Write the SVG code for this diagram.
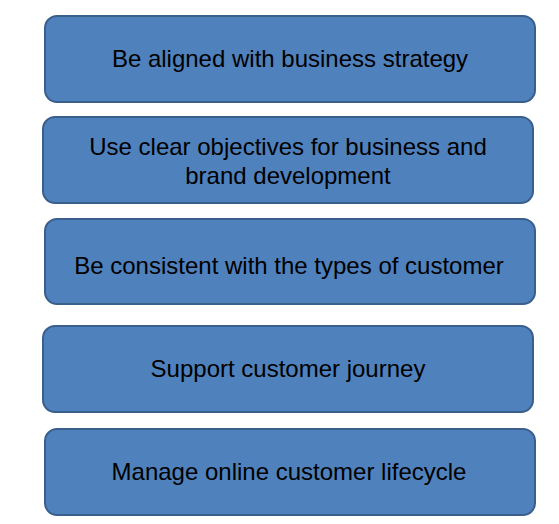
<svg xmlns="http://www.w3.org/2000/svg" width="559" height="524" viewBox="0 0 559 524">
<style>
.box{fill:#4F81BD;stroke:#3A5F8C;stroke-width:2}
.t{font-family:"Liberation Sans",Arial,sans-serif;font-size:24px;fill:#000;text-anchor:middle}
</style>
<rect width="559" height="524" fill="#fff"/>
<g id="n1"><rect class="box" x="45" y="16" width="490" height="86" rx="12"/><text class="t" x="290" y="67">Be aligned with business strategy</text></g>
<g id="n2"><rect class="box" x="43" y="117" width="490" height="86" rx="12"/><text class="t" x="288" y="155">Use clear objectives for business and</text><text class="t" x="288" y="184">brand development</text></g>
<g id="n3"><rect class="box" x="45" y="219" width="490" height="85" rx="12"/><text class="t" x="289" y="274">Be consistent with the types of customer</text></g>
<g id="n4"><rect class="box" x="43" y="326" width="490" height="86" rx="12"/><text class="t" x="288" y="377">Support customer journey</text></g>
<g id="n5"><rect class="box" x="45" y="429" width="490" height="86" rx="12"/><text class="t" x="289" y="480">Manage online customer lifecycle</text></g>
<g id="connectors"></g>
</svg>
